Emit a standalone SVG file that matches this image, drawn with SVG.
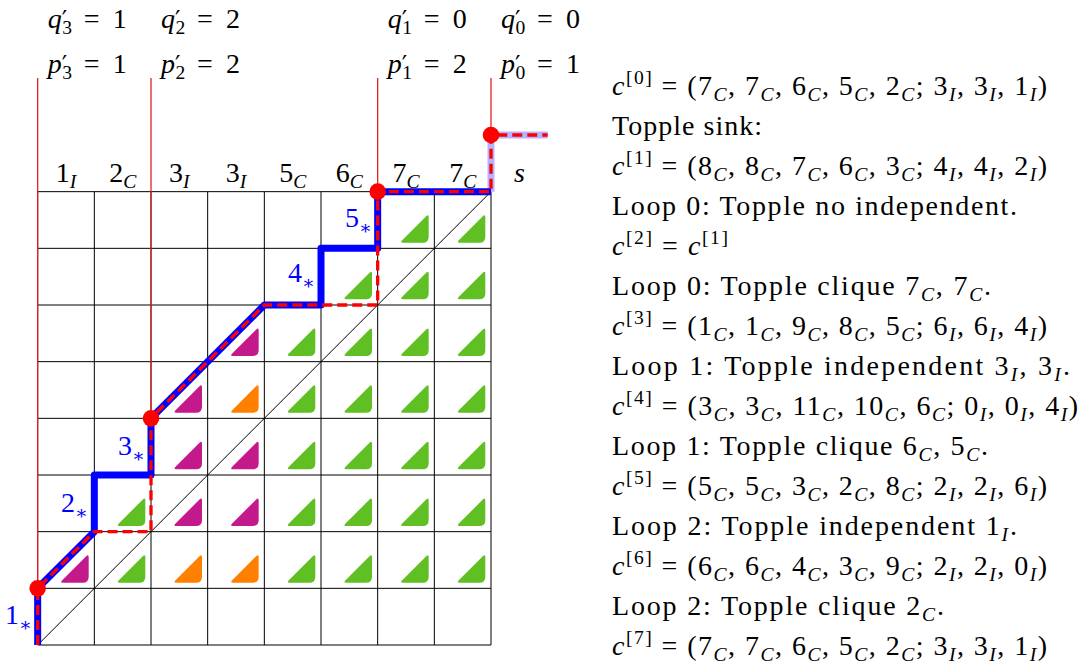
<svg xmlns="http://www.w3.org/2000/svg" width="1085" height="671" viewBox="0 0 1085 671">
<defs>
<path id="tri" d="M 24.5 48.5 L 48.5 24.5 Q 51 22 51 25.5 L 51 45 Q 51 51 45 51 L 25.5 51 Q 22 51 24.5 48.5 Z"/>
</defs>
<rect width="1085" height="671" fill="#fff"/>
<g id="grid" stroke="#000" stroke-width="1" fill="none">
<path d="M37.67 191.67V645M94.33 191.67V645M151 191.67V645M207.67 191.67V645M264.33 191.67V645M321 191.67V645M377.67 191.67V645M434.33 191.67V645M491 191.67V645M37.67 191.67H491M37.67 248.33H491M37.67 305H491M37.67 361.67H491M37.67 418.33H491M37.67 475H491M37.67 531.67H491M37.67 588.33H491M37.67 645H491"/>
</g>
<g id="cells">
<g id="green-cells" fill="#5fbf23">
<use href="#tri" x="377.67" y="191.67"/><use href="#tri" x="434.33" y="191.67"/>
<use href="#tri" x="321" y="248.33"/><use href="#tri" x="377.67" y="248.33"/><use href="#tri" x="434.33" y="248.33"/>
<use href="#tri" x="264.33" y="305"/><use href="#tri" x="321" y="305"/><use href="#tri" x="377.67" y="305"/><use href="#tri" x="434.33" y="305"/>
<use href="#tri" x="264.33" y="361.67"/><use href="#tri" x="321" y="361.67"/><use href="#tri" x="377.67" y="361.67"/><use href="#tri" x="434.33" y="361.67"/>
<use href="#tri" x="264.33" y="418.33"/><use href="#tri" x="321" y="418.33"/><use href="#tri" x="377.67" y="418.33"/><use href="#tri" x="434.33" y="418.33"/>
<use href="#tri" x="94.33" y="475"/><use href="#tri" x="264.33" y="475"/><use href="#tri" x="321" y="475"/><use href="#tri" x="377.67" y="475"/><use href="#tri" x="434.33" y="475"/>
<use href="#tri" x="94.33" y="531.67"/><use href="#tri" x="264.33" y="531.67"/><use href="#tri" x="321" y="531.67"/><use href="#tri" x="377.67" y="531.67"/><use href="#tri" x="434.33" y="531.67"/>
</g>
<g id="magenta-cells" fill="#c3198b">
<use href="#tri" x="207.67" y="305"/>
<use href="#tri" x="151" y="361.67"/>
<use href="#tri" x="151" y="418.33"/><use href="#tri" x="207.67" y="418.33"/>
<use href="#tri" x="151" y="475"/><use href="#tri" x="207.67" y="475"/>
<use href="#tri" x="37.67" y="531.67"/>
</g>
<g id="orange-cells" fill="#ff8000">
<use href="#tri" x="207.67" y="361.67"/>
<use href="#tri" x="151" y="531.67"/><use href="#tri" x="207.67" y="531.67"/>
</g>
</g>
<g id="connectors" fill="none">
<path d="M37.67 645L491 191.67" stroke="#000" stroke-width="1"/>
<path d="M37.67 78V588.33M151 78V418.33M377.67 78V191.67M491 78V135" stroke="#e52222" stroke-width="1.3"/>
<path d="M491 191.67V135H547.67" stroke="#b3b3ff" stroke-width="7"/>
<path d="M37.67 645V588.33L94.33 531.67V475H151V418.33L264.33 305H321V248.33H377.67V191.67H491" stroke="#0000ff" stroke-width="7" stroke-linejoin="round"/>
<path d="M37.67 645V588.33L94.33 531.67H151V418.33L264.33 305H377.67V191.67H491V135H547.67" stroke="#ff0000" stroke-width="3.3" stroke-dasharray="10 5"/>
</g>
<g id="nodes" fill="#ff0000">
<circle cx="37.67" cy="588.33" r="8.3"/>
<circle cx="151" cy="418.33" r="8.3"/>
<circle cx="377.67" cy="191.67" r="8.3"/>
<circle cx="491" cy="135" r="8.3"/>
</g>
<g id="top-labels" font-family="Liberation Serif, serif" font-size="28" fill="#000">
<text y="28"><tspan x="47.67" font-style="italic">q</tspan><tspan x="61.67" font-size="24" font-family="DejaVu Serif, serif">′</tspan><tspan x="62.17" font-size="19.6" baseline-shift="-6">3</tspan><tspan x="83.67">=</tspan><tspan x="112.67">1</tspan></text>
<text y="73"><tspan x="47.67" font-style="italic">p</tspan><tspan x="61.67" font-size="24" font-family="DejaVu Serif, serif">′</tspan><tspan x="62.17" font-size="19.6" baseline-shift="-6">3</tspan><tspan x="83.67">=</tspan><tspan x="112.67">1</tspan></text>
<text y="28"><tspan x="161" font-style="italic">q</tspan><tspan x="175" font-size="24" font-family="DejaVu Serif, serif">′</tspan><tspan x="175.5" font-size="19.6" baseline-shift="-6">2</tspan><tspan x="197">=</tspan><tspan x="226">2</tspan></text>
<text y="73"><tspan x="161" font-style="italic">p</tspan><tspan x="175" font-size="24" font-family="DejaVu Serif, serif">′</tspan><tspan x="175.5" font-size="19.6" baseline-shift="-6">2</tspan><tspan x="197">=</tspan><tspan x="226">2</tspan></text>
<text y="28"><tspan x="387.67" font-style="italic">q</tspan><tspan x="401.67" font-size="24" font-family="DejaVu Serif, serif">′</tspan><tspan x="402.17" font-size="19.6" baseline-shift="-6">1</tspan><tspan x="423.67">=</tspan><tspan x="452.67">0</tspan></text>
<text y="73"><tspan x="387.67" font-style="italic">p</tspan><tspan x="401.67" font-size="24" font-family="DejaVu Serif, serif">′</tspan><tspan x="402.17" font-size="19.6" baseline-shift="-6">1</tspan><tspan x="423.67">=</tspan><tspan x="452.67">2</tspan></text>
<text y="28"><tspan x="501" font-style="italic">q</tspan><tspan x="515" font-size="24" font-family="DejaVu Serif, serif">′</tspan><tspan x="515.5" font-size="19.6" baseline-shift="-6">0</tspan><tspan x="537">=</tspan><tspan x="566">0</tspan></text>
<text y="73"><tspan x="501" font-style="italic">p</tspan><tspan x="515" font-size="24" font-family="DejaVu Serif, serif">′</tspan><tspan x="515.5" font-size="19.6" baseline-shift="-6">0</tspan><tspan x="537">=</tspan><tspan x="566">1</tspan></text>
</g>
<g id="column-labels" text-anchor="middle" font-family="Liberation Serif, serif" font-size="28" fill="#000">
<text x="66" y="182">1<tspan font-size="19.6" font-style="italic" baseline-shift="-6">I</tspan></text>
<text x="122.67" y="182">2<tspan font-size="19.6" font-style="italic" baseline-shift="-6">C</tspan></text>
<text x="179.33" y="182">3<tspan font-size="19.6" font-style="italic" baseline-shift="-6">I</tspan></text>
<text x="236" y="182">3<tspan font-size="19.6" font-style="italic" baseline-shift="-6">I</tspan></text>
<text x="292.67" y="182">5<tspan font-size="19.6" font-style="italic" baseline-shift="-6">C</tspan></text>
<text x="349.33" y="182">6<tspan font-size="19.6" font-style="italic" baseline-shift="-6">C</tspan></text>
<text x="406" y="182">7<tspan font-size="19.6" font-style="italic" baseline-shift="-6">C</tspan></text>
<text x="462.67" y="182">7<tspan font-size="19.6" font-style="italic" baseline-shift="-6">C</tspan></text>
<text x="519.33" y="182" font-style="italic">s</text>
</g>
<g id="step-labels" text-anchor="end" font-family="Liberation Serif, serif" font-size="28" fill="#0000ff">
<text x="372" y="227">5<tspan font-size="19" baseline-shift="-7" font-family="DejaVu Serif, serif">∗</tspan></text>
<text x="315" y="282">4<tspan font-size="19" baseline-shift="-7" font-family="DejaVu Serif, serif">∗</tspan></text>
<text x="145" y="455">3<tspan font-size="19" baseline-shift="-7" font-family="DejaVu Serif, serif">∗</tspan></text>
<text x="88" y="512">2<tspan font-size="19" baseline-shift="-7" font-family="DejaVu Serif, serif">∗</tspan></text>
<text x="32" y="624">1<tspan font-size="19" baseline-shift="-7" font-family="DejaVu Serif, serif">∗</tspan></text>
</g>
<g id="steps-text" font-family="Liberation Serif, serif" font-size="28" fill="#000">
<text x="612" y="95" textLength="435"><tspan font-style="italic">c</tspan><tspan font-size="19.6" baseline-shift="11">[0]</tspan> = (7<tspan font-size="19.6" font-style="italic" baseline-shift="-6">C</tspan>, 7<tspan font-size="19.6" font-style="italic" baseline-shift="-6">C</tspan>, 6<tspan font-size="19.6" font-style="italic" baseline-shift="-6">C</tspan>, 5<tspan font-size="19.6" font-style="italic" baseline-shift="-6">C</tspan>, 2<tspan font-size="19.6" font-style="italic" baseline-shift="-6">C</tspan>; 3<tspan font-size="19.6" font-style="italic" baseline-shift="-6">I</tspan>, 3<tspan font-size="19.6" font-style="italic" baseline-shift="-6">I</tspan>, 1<tspan font-size="19.6" font-style="italic" baseline-shift="-6">I</tspan>)</text>
<text x="612" y="135" textLength="150">Topple sink:</text>
<text x="612" y="175" textLength="435"><tspan font-style="italic">c</tspan><tspan font-size="19.6" baseline-shift="11">[1]</tspan> = (8<tspan font-size="19.6" font-style="italic" baseline-shift="-6">C</tspan>, 8<tspan font-size="19.6" font-style="italic" baseline-shift="-6">C</tspan>, 7<tspan font-size="19.6" font-style="italic" baseline-shift="-6">C</tspan>, 6<tspan font-size="19.6" font-style="italic" baseline-shift="-6">C</tspan>, 3<tspan font-size="19.6" font-style="italic" baseline-shift="-6">C</tspan>; 4<tspan font-size="19.6" font-style="italic" baseline-shift="-6">I</tspan>, 4<tspan font-size="19.6" font-style="italic" baseline-shift="-6">I</tspan>, 2<tspan font-size="19.6" font-style="italic" baseline-shift="-6">I</tspan>)</text>
<text x="612" y="215" textLength="405">Loop 0: Topple no independent.</text>
<text x="612" y="255" textLength="116"><tspan font-style="italic">c</tspan><tspan font-size="19.6" baseline-shift="11">[2]</tspan> = <tspan font-style="italic">c</tspan><tspan font-size="19.6" baseline-shift="11">[1]</tspan></text>
<text x="612" y="295" textLength="379">Loop 0: Topple clique 7<tspan font-size="19.6" font-style="italic" baseline-shift="-6">C</tspan>, 7<tspan font-size="19.6" font-style="italic" baseline-shift="-6">C</tspan>.</text>
<text x="612" y="335" textLength="435"><tspan font-style="italic">c</tspan><tspan font-size="19.6" baseline-shift="11">[3]</tspan> = (1<tspan font-size="19.6" font-style="italic" baseline-shift="-6">C</tspan>, 1<tspan font-size="19.6" font-style="italic" baseline-shift="-6">C</tspan>, 9<tspan font-size="19.6" font-style="italic" baseline-shift="-6">C</tspan>, 8<tspan font-size="19.6" font-style="italic" baseline-shift="-6">C</tspan>, 5<tspan font-size="19.6" font-style="italic" baseline-shift="-6">C</tspan>; 6<tspan font-size="19.6" font-style="italic" baseline-shift="-6">I</tspan>, 6<tspan font-size="19.6" font-style="italic" baseline-shift="-6">I</tspan>, 4<tspan font-size="19.6" font-style="italic" baseline-shift="-6">I</tspan>)</text>
<text x="612" y="375" textLength="458">Loop 1: Topple independent 3<tspan font-size="19.6" font-style="italic" baseline-shift="-6">I</tspan>, 3<tspan font-size="19.6" font-style="italic" baseline-shift="-6">I</tspan>.</text>
<text x="612" y="415" textLength="466"><tspan font-style="italic">c</tspan><tspan font-size="19.6" baseline-shift="11">[4]</tspan> = (3<tspan font-size="19.6" font-style="italic" baseline-shift="-6">C</tspan>, 3<tspan font-size="19.6" font-style="italic" baseline-shift="-6">C</tspan>, 11<tspan font-size="19.6" font-style="italic" baseline-shift="-6">C</tspan>, 10<tspan font-size="19.6" font-style="italic" baseline-shift="-6">C</tspan>, 6<tspan font-size="19.6" font-style="italic" baseline-shift="-6">C</tspan>; 0<tspan font-size="19.6" font-style="italic" baseline-shift="-6">I</tspan>, 0<tspan font-size="19.6" font-style="italic" baseline-shift="-6">I</tspan>, 4<tspan font-size="19.6" font-style="italic" baseline-shift="-6">I</tspan>)</text>
<text x="612" y="455" textLength="376">Loop 1: Topple clique 6<tspan font-size="19.6" font-style="italic" baseline-shift="-6">C</tspan>, 5<tspan font-size="19.6" font-style="italic" baseline-shift="-6">C</tspan>.</text>
<text x="612" y="495" textLength="435"><tspan font-style="italic">c</tspan><tspan font-size="19.6" baseline-shift="11">[5]</tspan> = (5<tspan font-size="19.6" font-style="italic" baseline-shift="-6">C</tspan>, 5<tspan font-size="19.6" font-style="italic" baseline-shift="-6">C</tspan>, 3<tspan font-size="19.6" font-style="italic" baseline-shift="-6">C</tspan>, 2<tspan font-size="19.6" font-style="italic" baseline-shift="-6">C</tspan>, 8<tspan font-size="19.6" font-style="italic" baseline-shift="-6">C</tspan>; 2<tspan font-size="19.6" font-style="italic" baseline-shift="-6">I</tspan>, 2<tspan font-size="19.6" font-style="italic" baseline-shift="-6">I</tspan>, 6<tspan font-size="19.6" font-style="italic" baseline-shift="-6">I</tspan>)</text>
<text x="612" y="535" textLength="405">Loop 2: Topple independent 1<tspan font-size="19.6" font-style="italic" baseline-shift="-6">I</tspan>.</text>
<text x="612" y="575" textLength="435"><tspan font-style="italic">c</tspan><tspan font-size="19.6" baseline-shift="11">[6]</tspan> = (6<tspan font-size="19.6" font-style="italic" baseline-shift="-6">C</tspan>, 6<tspan font-size="19.6" font-style="italic" baseline-shift="-6">C</tspan>, 4<tspan font-size="19.6" font-style="italic" baseline-shift="-6">C</tspan>, 3<tspan font-size="19.6" font-style="italic" baseline-shift="-6">C</tspan>, 9<tspan font-size="19.6" font-style="italic" baseline-shift="-6">C</tspan>; 2<tspan font-size="19.6" font-style="italic" baseline-shift="-6">I</tspan>, 2<tspan font-size="19.6" font-style="italic" baseline-shift="-6">I</tspan>, 0<tspan font-size="19.6" font-style="italic" baseline-shift="-6">I</tspan>)</text>
<text x="612" y="615" textLength="332">Loop 2: Topple clique 2<tspan font-size="19.6" font-style="italic" baseline-shift="-6">C</tspan>.</text>
<text x="612" y="655" textLength="435"><tspan font-style="italic">c</tspan><tspan font-size="19.6" baseline-shift="11">[7]</tspan> = (7<tspan font-size="19.6" font-style="italic" baseline-shift="-6">C</tspan>, 7<tspan font-size="19.6" font-style="italic" baseline-shift="-6">C</tspan>, 6<tspan font-size="19.6" font-style="italic" baseline-shift="-6">C</tspan>, 5<tspan font-size="19.6" font-style="italic" baseline-shift="-6">C</tspan>, 2<tspan font-size="19.6" font-style="italic" baseline-shift="-6">C</tspan>; 3<tspan font-size="19.6" font-style="italic" baseline-shift="-6">I</tspan>, 3<tspan font-size="19.6" font-style="italic" baseline-shift="-6">I</tspan>, 1<tspan font-size="19.6" font-style="italic" baseline-shift="-6">I</tspan>)</text>
</g>
</svg>
